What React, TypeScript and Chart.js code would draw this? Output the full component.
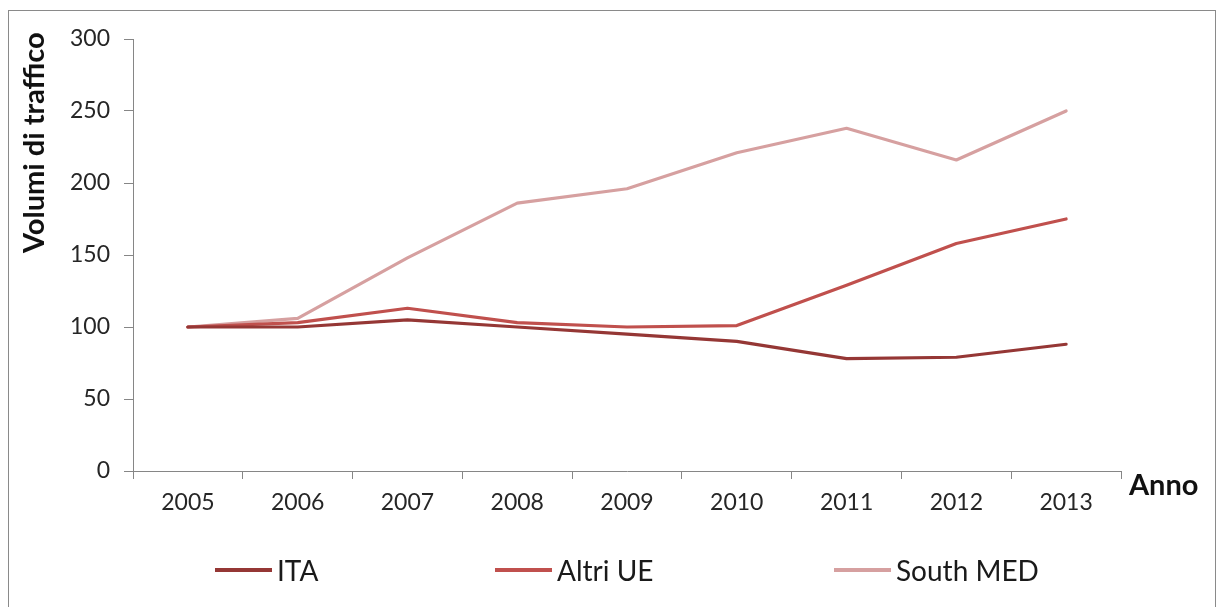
import React, { useEffect, useRef } from "react";
import { Chart, registerables } from "chart.js";

Chart.register(...registerables);

const categories = ["2005", "2006", "2007", "2008", "2009", "2010", "2011", "2012", "2013"];
const ita = [100, 100, 105, 100, 95, 90, 78, 79, 88];
const altriUE = [100, 103, 113, 103, 100, 101, 129, 158, 175];
const southMed = [100, 106, 148, 186, 196, 221, 238, 216, 250];
const seriesLabels = ["ITA", "Altri UE", "South MED"];
const seriesColors = ["#953735", "#C0504D", "#D6A0A0"];
const yMin = 0;
const yMax = 300;
const yStep = 50;
const yTitle = "Volumi di traffico";
const xTitle = "Anno";

const W = 1218;
const H = 607;
const FONT = "Lato, 'Open Sans', sans-serif";
const legendLeft = [215, 495, 834];

export default function App() {
  const ref = useRef<HTMLCanvasElement | null>(null);

  useEffect(() => {
    if (!ref.current) return;
    const seriesData = [ita, altriUE, southMed];
    const chart = new Chart(ref.current, {
      type: "line",
      data: {
        labels: categories,
        datasets: seriesLabels.map((label, i) => ({
          label,
          data: seriesData[i],
          borderColor: seriesColors[i],
          backgroundColor: seriesColors[i],
          borderWidth: 3.2,
          pointRadius: 0,
          pointHoverRadius: 0,
          tension: 0,
          borderJoinStyle: "round" as const,
          borderCapStyle: "round" as const,
          fill: false,
        })),
      },
      options: {
        responsive: false,
        animation: false,
        events: [],
        layout: { padding: { top: 39, right: 97, bottom: 0, left: 0 } },
        plugins: {
          legend: { display: false },
          tooltip: { enabled: false },
          title: { display: false },
        },
        scales: {
          x: {
            type: "category",
            offset: true,
            grid: {
              offset: true,
              drawOnChartArea: false,
              drawTicks: true,
              tickLength: 8,
              color: "#868686",
            },
            border: { color: "#868686", width: 1 },
            ticks: {
              font: { family: FONT, size: 23 },
              color: "#262626",
              padding: 10,
              maxRotation: 0,
              autoSkip: false,
            },
            afterFit: (s: any) => {
              s.height = 136;
            },
          },
          y: {
            min: yMin,
            max: yMax,
            grid: {
              drawOnChartArea: false,
              drawTicks: true,
              tickLength: 9,
              color: "#868686",
            },
            border: { color: "#868686", width: 1 },
            ticks: {
              stepSize: yStep,
              font: { family: FONT, size: 23 },
              color: "#262626",
              padding: 14,
            },
            afterFit: (s: any) => {
              s.width = 133;
            },
          },
        },
      },
    });
    return () => chart.destroy();
  }, []);

  return (
    <div style={{ position: "fixed", left: 0, top: 0, width: W, height: H, background: "#fff", overflow: "hidden" }}>
      <div
        style={{
          position: "absolute",
          left: 8,
          top: 10,
          width: 1208,
          height: 620,
          border: "1px solid #8a8a8a",
          boxSizing: "border-box",
        }}
      />
      <canvas ref={ref} width={W} height={H} style={{ position: "absolute", left: 0, top: 0, width: W, height: H }} />
      <div
        style={{
          position: "absolute",
          left: 16,
          top: 28,
          width: 34,
          height: 229,
          writingMode: "vertical-rl",
          transform: "rotate(180deg)",
          textAlign: "center",
          font: `bold 29px ${FONT}`,
          lineHeight: "34px",
          color: "#111",
          whiteSpace: "nowrap",
        }}
      >
        {yTitle}
      </div>
      <div
        style={{
          position: "absolute",
          left: 1129,
          top: 467,
          font: `bold 29px ${FONT}`,
          lineHeight: "34px",
          color: "#111",
          whiteSpace: "nowrap",
        }}
      >
        {xTitle}
      </div>
      {seriesLabels.map((label, i) => (
        <div
          key={label}
          style={{
            position: "absolute",
            left: legendLeft[i],
            top: 552,
            height: 36,
            display: "flex",
            alignItems: "center",
            whiteSpace: "nowrap",
          }}
        >
          <div style={{ width: 57, height: 4, background: seriesColors[i], marginRight: 5 }} />
          <span style={{ font: `28px ${FONT}`, color: "#1a1a1a", lineHeight: "36px" }}>{label}</span>
        </div>
      ))}
    </div>
  );
}
